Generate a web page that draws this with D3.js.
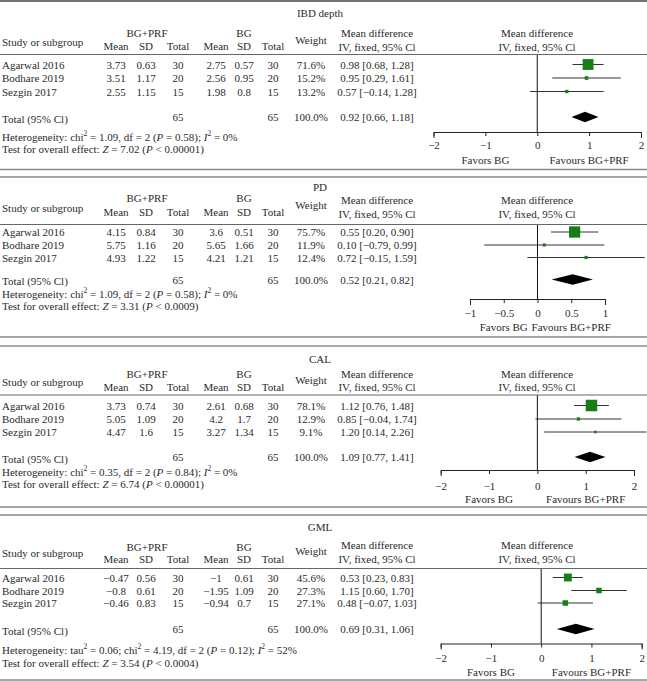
<!DOCTYPE html>
<html><head><meta charset="utf-8">
<script src="https://cdn.jsdelivr.net/npm/d3@7"></script>
<style>
body{margin:0;background:#fff}
svg text{font-family:"Liberation Serif","DejaVu Serif",serif;fill:#2b2b2b;font-size:11px}
</style></head><body>
<svg id="c" width="647" height="681"></svg>
<script>
// ---------- DATA ----------
const outcomes = ["IBD depth", "PD", "CAL", "GML"];
const studies = ["Agarwal 2016", "Bodhare 2019", "Sezgin 2017"];
const prfMean = [[3.73, 3.51, 2.55], [4.15, 5.75, 4.93], [3.73, 5.05, 4.47], [-0.47, -0.8, -0.46]];
const prfSD   = [[0.63, 1.17, 1.15], [0.84, 1.16, 1.22], [0.74, 1.09, 1.6], [0.56, 0.61, 0.83]];
const prfN    = [30, 20, 15];
const bgMean  = [[2.75, 2.56, 1.98], [3.6, 5.65, 4.21], [2.61, 4.2, 3.27], [-1, -1.95, -0.94]];
const bgSD    = [[0.57, 0.95, 0.8], [0.51, 1.66, 1.21], [0.68, 1.7, 1.34], [0.61, 1.09, 0.7]];
const bgN     = [30, 20, 15];
const weights = [[71.6, 15.2, 13.2], [75.7, 11.9, 12.4], [78.1, 12.9, 9.1], [45.6, 27.3, 27.1]];
const totalWeight = ["100.0%", "100.0%", "100.0%", "100.0%"];
const md      = [[0.98, 0.95, 0.57], [0.55, 0.10, 0.72], [1.12, 0.85, 1.20], [0.53, 1.15, 0.48]];
const ciLow   = [[0.68, 0.29, -0.14], [0.20, -0.79, -0.15], [0.76, -0.04, 0.14], [0.23, 0.60, -0.07]];
const ciHigh  = [[1.28, 1.61, 1.28], [0.90, 0.99, 1.59], [1.48, 1.74, 2.26], [0.83, 1.70, 1.03]];
const totalMD   = [0.92, 0.52, 1.09, 0.69];
const totalLow  = [0.66, 0.21, 0.77, 0.31];
const totalHigh = [1.18, 0.82, 1.41, 1.06];
const tau2  = [null, null, null, "0.06"];
const chi2  = ["1.09", "1.09", "0.35", "4.19"];
const hetDf = [2, 2, 2, 2];
const hetP  = ["0.58", "0.58", "0.84", "0.12"];
const i2    = ["0%", "0%", "0%", "52%"];
const zVal  = ["7.02", "3.31", "6.74", "3.54"];
const zP    = ["< 0.00001", "< 0.0009", "< 0.00001", "< 0.0004"];
const axisDomains = [[-2, 2], [-1, 1], [-2, 2], [-2, 2]];
const axisTicks = [[-2, -1, 0, 1, 2], [-1, -0.5, 0, 0.5, 1], [-2, -1, 0, 1, 2], [-2, -1, 0, 1, 2]];
const favorLeft = "Favors BG", favorRight = "Favours BG+PRF";

// ---------- LAYOUT ----------
const layout = [
  {top:1, bottom:169.5, title:13, grp:33, sub:46, study:42, weight:40, md1:33, md2:46.5, hline:54.5, rows:[64.5,78,91.5], total:117, het:136.5, test:148.5, axisY:132, tickY:145, favY:159.5, range:[433.5,641]},
  {top:177, bottom:337, title:187, grp:198, sub:212, study:208, weight:205, md1:200, md2:213.5, hline:224.5, rows:[232,245,257.5], total:279.5, het:294, test:305.5, axisY:299, tickY:313, favY:327, range:[470,605]},
  {top:346, bottom:507, title:358.5, grp:373.5, sub:386.5, study:382, weight:380, md1:373.5, md2:386.5, hline:395, rows:[405.5,419,432], total:457, het:472, test:484, axisY:470, tickY:486, favY:498.5, range:[440.7,634]},
  {top:515, bottom:680, title:527, grp:547, sub:558.5, study:553, weight:551, md1:545, md2:558.5, hline:568.5, rows:[577.5,590.5,603], total:629, het:649.5, test:662.5, axisY:643.5, tickY:658, favY:672, range:[440.7,641.7]}
];
const colX = {study:2, m1:116, s1:146, n1:178, m2:216, s2:244, n2:273, w:311, md:377, forest:537};
const W = 647;

const svg = d3.select("#c");
const minus = v => (v < 0 ? "\u2212" : "") + Math.abs(v);
const f2 = v => (v < 0 ? "\u2212" : "") + Math.abs(v).toFixed(2);
const sizeScale = d3.scalePow().exponent(0.7).domain([0, 100]).range([0, 13.7]);

function text(g, x, y, s, anchor) {
  return g.append("text").attr("x", x).attr("y", y).attr("text-anchor", anchor || "middle")
    .attr("dominant-baseline", "central").text(s);
}
function rich(g, x, y, parts) {
  const t = g.append("text").attr("x", x).attr("y", y).attr("dominant-baseline", "central");
  let shift = 0;
  parts.forEach(([s, st]) => {
    const sp = t.append("tspan").text(s);
    if (st === "sup") {
      sp.attr("dy", -4 - shift).style("font-size", "7.5px"); shift = -4;
    } else {
      if (shift !== 0) { sp.attr("dy", -shift); shift = 0; }
      if (st === "i") sp.style("font-style", "italic");
    }
  });
  return t;
}
function hline(y, color, w) {
  svg.append("line").attr("x1", 0).attr("x2", W).attr("y1", y).attr("y2", y)
    .attr("stroke", color).attr("stroke-width", w);
}

outcomes.forEach((name, p) => {
  const L = layout[p];
  const g = svg.append("g");
  if (p === 0) hline(L.top, "#444", 1.6); else hline(L.top, "#8a8a8a", 1.5);
  hline(L.bottom, "#8a8a8a", 1.5);
  hline(L.hline, "#666", 1);

  text(g, 320, L.title, name);
  text(g, 147, L.grp, "BG+PRF");
  text(g, 244, L.grp, "BG");
  text(g, colX.study, L.study, "Study or subgroup", "start");
  [["Mean", colX.m1], ["SD", colX.s1], ["Total", colX.n1], ["Mean", colX.m2], ["SD", colX.s2], ["Total", colX.n2]]
    .forEach(([s, x]) => text(g, x, L.sub, s));
  text(g, colX.w, L.weight, "Weight");
  [colX.md, colX.forest].forEach(x => {
    text(g, x, L.md1, "Mean difference");
    text(g, x, L.md2, "IV, fixed, 95% Cl");
  });

  const x = d3.scaleLinear().domain(axisDomains[p]).range(L.range);

  studies.forEach((s, i) => {
    const y = L.rows[i];
    text(g, colX.study, y, s, "start");
    text(g, colX.m1, y, minus(prfMean[p][i]));
    text(g, colX.s1, y, minus(prfSD[p][i]));
    text(g, colX.n1, y, prfN[i]);
    text(g, colX.m2, y, minus(bgMean[p][i]));
    text(g, colX.s2, y, minus(bgSD[p][i]));
    text(g, colX.n2, y, bgN[i]);
    text(g, colX.w, y, weights[p][i].toFixed(1) + "%");
    text(g, colX.md, y, `${f2(md[p][i])} [${f2(ciLow[p][i])}, ${f2(ciHigh[p][i])}]`);
    g.append("line").attr("x1", x(ciLow[p][i])).attr("x2", x(ciHigh[p][i]))
      .attr("y1", y).attr("y2", y).attr("stroke", "#333").attr("stroke-width", 1);
    const sz = sizeScale(weights[p][i]);
    g.append("rect").attr("x", x(md[p][i]) - sz / 2).attr("y", y - sz / 2)
      .attr("width", sz).attr("height", sz).attr("fill", "#177d17");
  });

  text(g, colX.study, L.total + 1.5, "Total (95% Cl)", "start");
  text(g, colX.n1, L.total, d3.sum(prfN));
  text(g, colX.n2, L.total, d3.sum(bgN));
  text(g, colX.w, L.total, totalWeight[p]);
  text(g, colX.md, L.total, `${f2(totalMD[p])} [${f2(totalLow[p])}, ${f2(totalHigh[p])}]`);
  const dh = 5.2;
  g.append("path").attr("d", `M${x(totalLow[p])},${L.total} L${x(totalMD[p])},${L.total - dh} L${x(totalHigh[p])},${L.total} L${x(totalMD[p])},${L.total + dh} Z`)
    .attr("fill", "#000");

  const hp = [["Heterogeneity: "]];
  if (tau2[p] !== null) hp.push(["tau"], ["2", "sup"], [` = ${tau2[p]}; chi`]);
  else hp.push(["chi"]);
  hp.push(["2", "sup"], [` = ${chi2[p]}, df = ${hetDf[p]} (`], ["P", "i"], [` = ${hetP[p]}); `], ["I", "i"], ["2", "sup"], [` = ${i2[p]}`]);
  rich(g, colX.study, L.het, hp);
  rich(g, colX.study, L.test, [["Test for overall effect: "], ["Z", "i"], [` = ${zVal[p]} (`], ["P", "i"], [` ${zP[p]})`]]);

  g.append("line").attr("x1", x(0)).attr("x2", x(0)).attr("y1", L.hline).attr("y2", L.axisY)
    .attr("stroke", "#111").attr("stroke-width", 1);

  const ax = g.append("g").attr("transform", `translate(0,${L.axisY})`)
    .call(d3.axisBottom(x).tickValues(axisTicks[p]).tickSizeInner(4).tickSizeOuter(6)
      .tickFormat(d => d === 0 ? "0" : minus(d)));
  ax.selectAll("path,line").attr("stroke", "#222");
  ax.selectAll("text").attr("y", L.tickY - L.axisY).attr("dy", null)
    .attr("dominant-baseline", "central").style("font-size", "11px")
    .style("font-family", '"Liberation Serif","DejaVu Serif",serif').attr("fill", "#2b2b2b");
  const half = (axisDomains[p][1] - axisDomains[p][0]) / 4;
  text(g, x(-half), L.favY, favorLeft);
  text(g, x(half), L.favY, favorRight);
});
</script>
</body></html>
